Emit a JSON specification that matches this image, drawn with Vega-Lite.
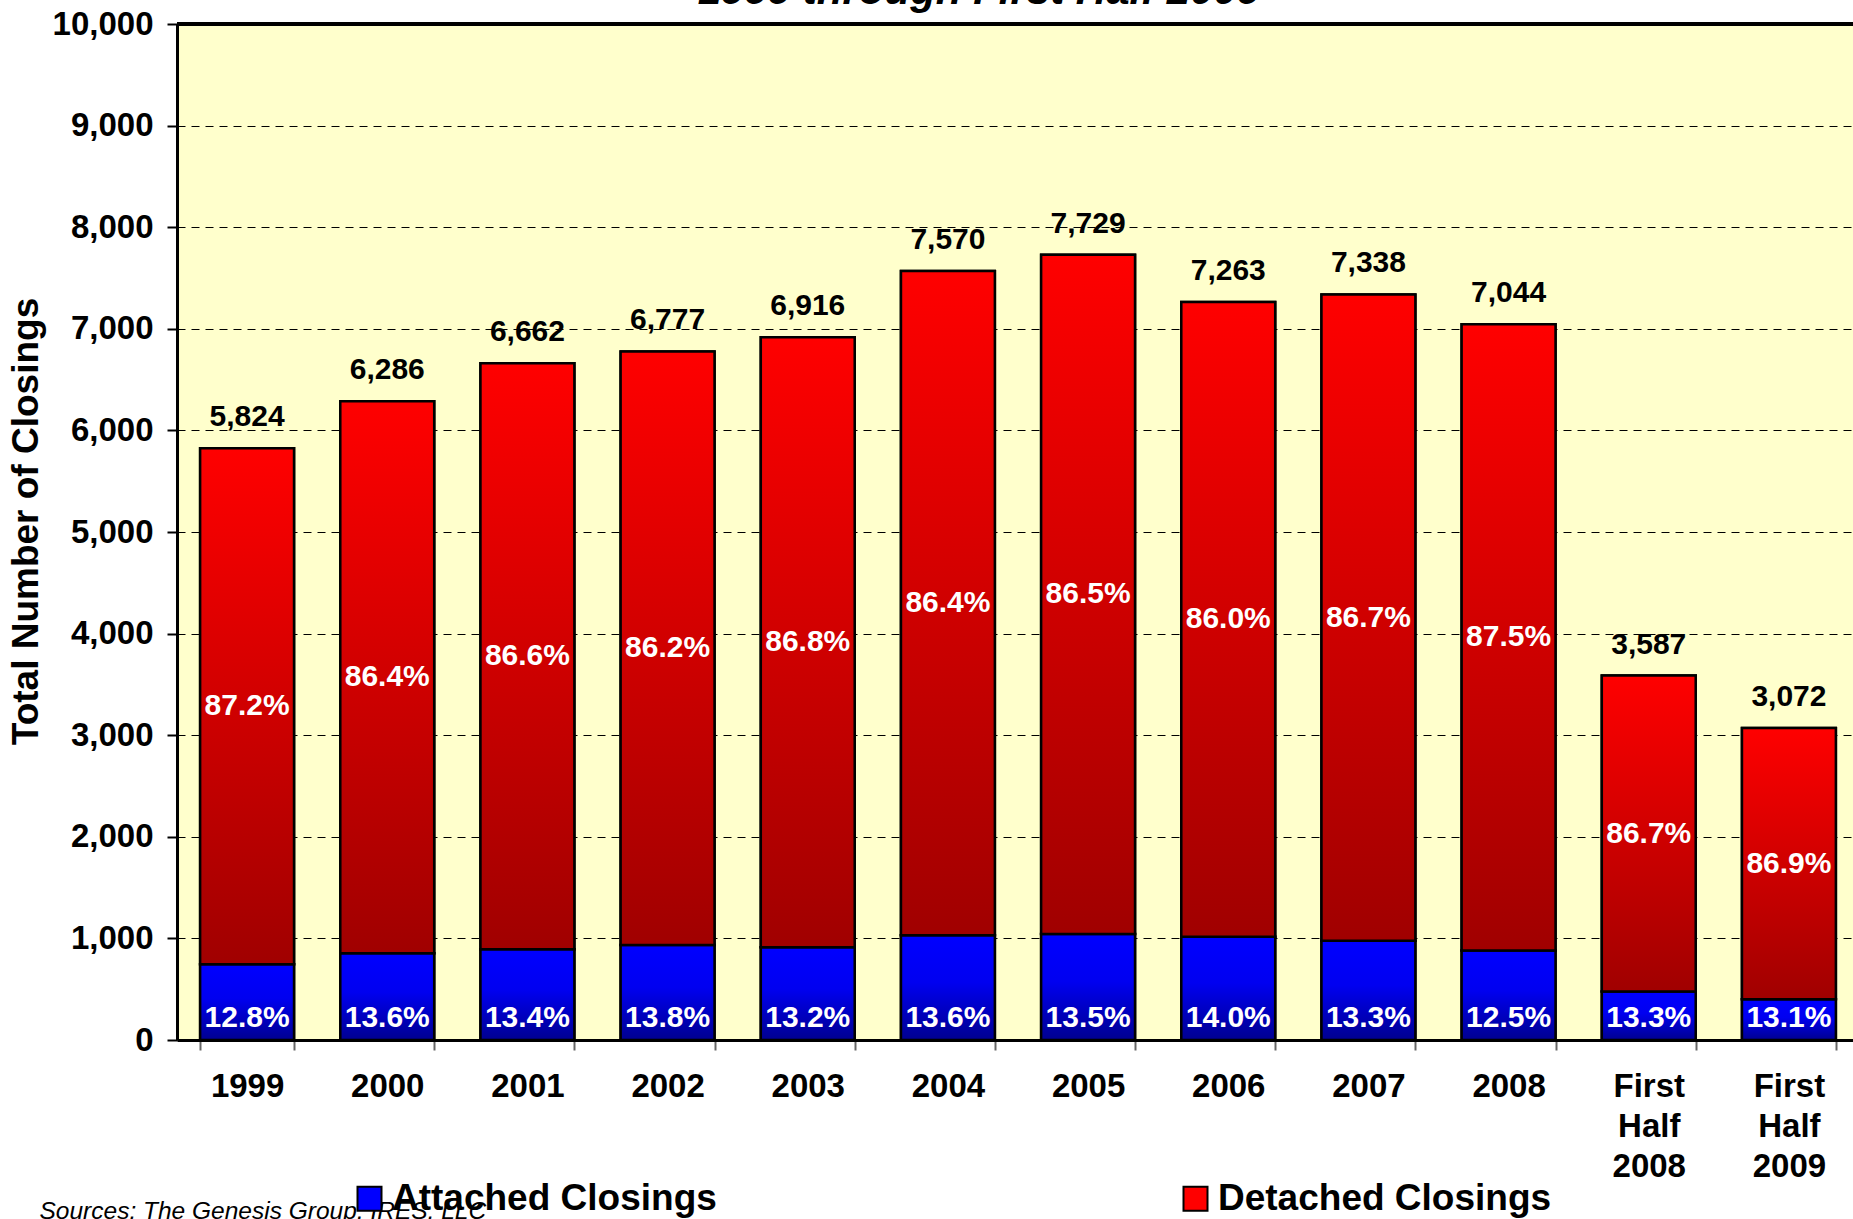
{
  "$schema": "https://vega.github.io/schema/vega-lite/v6.json",
  "width": 1682,
  "height": 1016,
  "autosize": {"type": "none"},
  "padding": {"left": 177, "top": 24, "right": -6, "bottom": 179},
  "background": "white",
  "title": {
    "text": "1999 through First Half 2009",
    "font": "Liberation Sans",
    "fontSize": 42,
    "fontWeight": "bold",
    "fontStyle": "italic",
    "color": "black",
    "anchor": "middle",
    "frame": "group",
    "dx": -39,
    "dy": 38,
    "offset": 0,
    "baseline": "alphabetic"
  },
  "config": {
    "view": {"fill": "#FFFFCC", "stroke": null},
    "font": "Liberation Sans"
  },
  "data": {
    "values": [
      {"period": "1999", "type": "Attached Closings", "ord": 1, "value": 745, "total": 5824, "pct": "12.8%"},
      {"period": "1999", "type": "Detached Closings", "ord": 2, "value": 5079, "total": 5824, "pct": "87.2%"},
      {"period": "2000", "type": "Attached Closings", "ord": 1, "value": 855, "total": 6286, "pct": "13.6%"},
      {"period": "2000", "type": "Detached Closings", "ord": 2, "value": 5431, "total": 6286, "pct": "86.4%"},
      {"period": "2001", "type": "Attached Closings", "ord": 1, "value": 893, "total": 6662, "pct": "13.4%"},
      {"period": "2001", "type": "Detached Closings", "ord": 2, "value": 5769, "total": 6662, "pct": "86.6%"},
      {"period": "2002", "type": "Attached Closings", "ord": 1, "value": 935, "total": 6777, "pct": "13.8%"},
      {"period": "2002", "type": "Detached Closings", "ord": 2, "value": 5842, "total": 6777, "pct": "86.2%"},
      {"period": "2003", "type": "Attached Closings", "ord": 1, "value": 913, "total": 6916, "pct": "13.2%"},
      {"period": "2003", "type": "Detached Closings", "ord": 2, "value": 6003, "total": 6916, "pct": "86.8%"},
      {"period": "2004", "type": "Attached Closings", "ord": 1, "value": 1030, "total": 7570, "pct": "13.6%"},
      {"period": "2004", "type": "Detached Closings", "ord": 2, "value": 6540, "total": 7570, "pct": "86.4%"},
      {"period": "2005", "type": "Attached Closings", "ord": 1, "value": 1043, "total": 7729, "pct": "13.5%"},
      {"period": "2005", "type": "Detached Closings", "ord": 2, "value": 6686, "total": 7729, "pct": "86.5%"},
      {"period": "2006", "type": "Attached Closings", "ord": 1, "value": 1017, "total": 7263, "pct": "14.0%"},
      {"period": "2006", "type": "Detached Closings", "ord": 2, "value": 6246, "total": 7263, "pct": "86.0%"},
      {"period": "2007", "type": "Attached Closings", "ord": 1, "value": 976, "total": 7338, "pct": "13.3%"},
      {"period": "2007", "type": "Detached Closings", "ord": 2, "value": 6362, "total": 7338, "pct": "86.7%"},
      {"period": "2008", "type": "Attached Closings", "ord": 1, "value": 881, "total": 7044, "pct": "12.5%"},
      {"period": "2008", "type": "Detached Closings", "ord": 2, "value": 6163, "total": 7044, "pct": "87.5%"},
      {"period": "First Half 2008", "type": "Attached Closings", "ord": 1, "value": 477, "total": 3587, "pct": "13.3%"},
      {"period": "First Half 2008", "type": "Detached Closings", "ord": 2, "value": 3110, "total": 3587, "pct": "86.7%"},
      {"period": "First Half 2009", "type": "Attached Closings", "ord": 1, "value": 402, "total": 3072, "pct": "13.1%"},
      {"period": "First Half 2009", "type": "Detached Closings", "ord": 2, "value": 2670, "total": 3072, "pct": "86.9%"}
    ]
  },
  "layer": [
    {
      "mark": {"type": "bar", "stroke": "black", "strokeWidth": 2.5},
      "encoding": {
        "x": {
          "field": "period", "type": "nominal", "sort": null,
          "scale": {"paddingInner": 0.33, "paddingOuter": 0.165},
          "axis": {
            "title": "Sources:  The Genesis Group; IRES, LLC",
            "titleFont": "Liberation Sans",
            "titleFontSize": 24.5,
            "titleFontWeight": "normal",
            "titleFontStyle": "italic",
            "titleColor": "black",
            "titleX": -138,
            "titleY": 171,
            "titleAlign": "left",
            "titleAnchor": "start",
            "titleBaseline": "middle",
            "titleLimit": 0,
            "labelAngle": 0,
            "labelFont": "Liberation Sans",
            "labelFontSize": 33,
            "labelFontWeight": "bold",
            "labelColor": "black",
            "labelExpr": "split(datum.label, ' ')",
            "labelLineHeight": 40,
            "labelPadding": 20,
            "tickBand": "extent",
            "tickSize": 10,
            "tickColor": "#666666",
            "tickWidth": 2,
            "domainColor": "black",
            "domainWidth": 3
          }
        },
        "y": {
          "field": "value", "type": "quantitative", "stack": "zero",
          "scale": {"domain": [0, 10000], "nice": false},
          "title": "Total Number of Closings",
          "axis": {
            "values": [0, 1000, 2000, 3000, 4000, 5000, 6000, 7000, 8000, 9000, 10000],
            "labelExpr": "format(datum.value, ',')",
            "labelFont": "Liberation Sans",
            "labelFontSize": 33,
            "labelFontWeight": "bold",
            "labelColor": "black",
            "labelPadding": 14,
            "tickColor": "black",
            "tickSize": 10,
            "tickWidth": 2,
            "domainColor": "black",
            "domainWidth": 3,
            "grid": true,
            "gridColor": "black",
            "gridDash": [8, 6],
            "gridWidth": 1,
            "titleFont": "Liberation Sans",
            "titleFontSize": 37,
            "titleFontWeight": "bold",
            "titleColor": "black",
            "titleX": -151,
            "titleY": 497,
            "titleBaseline": "middle",
            "titleAlign": "center",
            "titleAngle": -90
          }
        },
        "color": {
          "field": "type", "type": "nominal",
          "scale": {"domain": ["Attached Closings", "Detached Closings"], "range": ["#0000FF", "#FF0000"]},
          "legend": {
            "orient": "none",
            "legendX": 174,
            "legendY": 1156,
            "direction": "horizontal",
            "title": null,
            "padding": 0,
            "symbolType": "square",
            "symbolSize": 576,
            "symbolStrokeColor": "black",
            "symbolStrokeWidth": 2,
            "labelFont": "Liberation Sans",
            "labelFontSize": 37,
            "labelFontWeight": "bold",
            "labelColor": "black",
            "labelOffset": 4,
            "labelLimit": 0,
            "columnPadding": 460
          }
        },
        "order": {"field": "ord", "type": "quantitative"}
      }
    },
    {
      "mark": {"type": "bar", "stroke": "black", "strokeWidth": 2.5},
      "encoding": {
        "x": {"field": "period", "type": "nominal", "sort": null},
        "y": {"field": "value", "type": "quantitative", "stack": "zero", "title": "Total Number of Closings"},
        "detail": {"field": "type", "type": "nominal"},
        "order": {"field": "ord", "type": "quantitative"},
        "color": {
          "condition": {
            "test": "datum.type === 'Attached Closings'",
            "value": {"gradient": "linear", "x1": 0, "y1": 0, "x2": 0, "y2": 1, "stops": [{"offset": 0, "color": "#0000FF"}, {"offset": 0.45, "color": "#0000F0"}, {"offset": 1, "color": "#000090"}]}
          },
          "value": {"gradient": "linear", "x1": 0, "y1": 0, "x2": 0, "y2": 1, "stops": [{"offset": 0, "color": "#FF0000"}, {"offset": 1, "color": "#A00000"}]}
        }
      }
    },
    {
      "mark": {"type": "rule", "color": "black", "strokeWidth": 3},
      "encoding": {"y": {"datum": 10000, "type": "quantitative"}}
    },
    {
      "transform": [{"filter": "datum.type === 'Detached Closings'"}],
      "mark": {"type": "text", "font": "Liberation Sans", "fontSize": 30, "fontWeight": "bold", "color": "black", "baseline": "middle", "dy": -31},
      "encoding": {
        "x": {"field": "period", "type": "nominal", "sort": null},
        "y": {"field": "total", "type": "quantitative", "title": "Total Number of Closings"},
        "text": {"field": "total", "type": "quantitative", "format": ","}
      }
    },
    {
      "transform": [
        {"filter": "datum.type === 'Detached Closings'"},
        {"calculate": "datum.total - datum.value / 2", "as": "mid"}
      ],
      "mark": {"type": "text", "font": "Liberation Sans", "fontSize": 30, "fontWeight": "bold", "color": "white", "baseline": "middle"},
      "encoding": {
        "x": {"field": "period", "type": "nominal", "sort": null},
        "y": {"field": "mid", "type": "quantitative", "title": "Total Number of Closings"},
        "text": {"field": "pct", "type": "nominal"}
      }
    },
    {
      "transform": [{"filter": "datum.type === 'Attached Closings'"}],
      "mark": {"type": "text", "font": "Liberation Sans", "fontSize": 30, "fontWeight": "bold", "color": "white", "baseline": "middle", "dy": -22},
      "encoding": {
        "x": {"field": "period", "type": "nominal", "sort": null},
        "y": {"datum": 0, "type": "quantitative"},
        "text": {"field": "pct", "type": "nominal"}
      }
    }
  ]
}
